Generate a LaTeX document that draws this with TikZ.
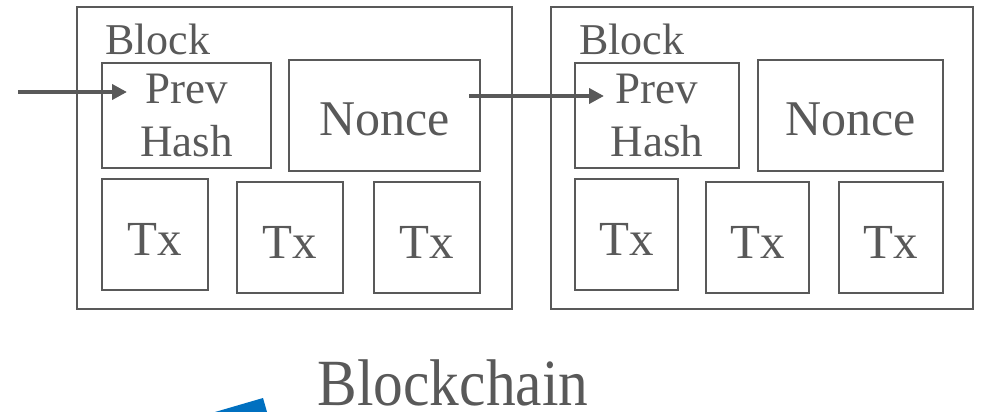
\documentclass[tikz,border=0pt]{standalone}
\usepackage{fontspec}
\setmainfont{Liberation Serif}
\newfontfamily\titlefont[FakeStretch=0.9]{Liberation Serif}
\usetikzlibrary{arrows.meta}
\definecolor{slate}{HTML}{595959}
\definecolor{pptblue}{HTML}{0070C0}

\begin{document}
\begin{tikzpicture}[x=1pt,y=-1pt,->,>={Triangle[length=15pt,width=15pt]},line width=4pt,
  every node/.style={text=slate,inner sep=0pt},
  block/.style={draw=slate,line width=1.6pt,minimum width=#1,minimum height=302pt},
  field/.style={draw=slate,line width=1.6pt,align=center,font=\fontsize{45}{53}\selectfont},
  tx node/.style={draw=slate,line width=1.6pt,minimum height=111pt,minimum width=#1,
    text height=42pt,text depth=0pt,font=\fontsize{49}{55}\selectfont}]

  \useasboundingbox (0,0) rectangle (998,412);

  % first block
  \node[block=435pt] (b1) at (294.5,158) {};
  \node[anchor=base west,font=\fontsize{44}{50}\selectfont] (l1) at (103,55) {Block};
  \node[field,minimum width=169pt,minimum height=105pt] (prev1) at (186.5,115.5) {Prev\\Hash};
  \node[field,minimum width=191pt,minimum height=111pt,text height=39pt,text depth=0pt,
    font=\fontsize{50}{56}\selectfont] (nonce1) at (384.5,115.5) {Nonce};
  \node[tx node=106pt] (tx1a) at (155,234.5) {Tx};
  \node[tx node=106pt] (tx1b) at (290,237.5) {Tx};
  \node[tx node=106pt] (tx1c) at (427,237.5) {Tx};

  % second block
  \node[block=422pt] (b2) at (762,158) {};
  \node[anchor=base west,font=\fontsize{44}{50}\selectfont] (l2) at (577,55) {Block};
  \node[field,minimum width=164pt,minimum height=105pt] (prev2) at (657,115.5) {Prev\\Hash};
  \node[field,minimum width=185pt,minimum height=111pt,text height=39pt,text depth=0pt,
    font=\fontsize{50}{56}\selectfont] (nonce2) at (850.5,115.5) {Nonce};
  \node[tx node=103pt] (tx2a) at (626.5,234.5) {Tx};
  \node[tx node=103pt] (tx2b) at (757.5,237.5) {Tx};
  \node[tx node=104pt] (tx2c) at (891,237.5) {Tx};

  \node[anchor=base,font=\titlefont\fontsize{66}{70}\selectfont] (title) at (453,405) {Blockchain};

  % hash links
  \coordinate (in) at (18,92);
  \coordinate (tip1) at (127,92);
  \coordinate (out) at (469,96);
  \coordinate (tip2) at (604,96);
  \draw[slate] (in) -- (tip1);
  \draw[slate] (out) -- (tip2);

  \fill[pptblue] (215,412) -- (263,398) -- (267,412) -- cycle;
\end{tikzpicture}
\end{document}
